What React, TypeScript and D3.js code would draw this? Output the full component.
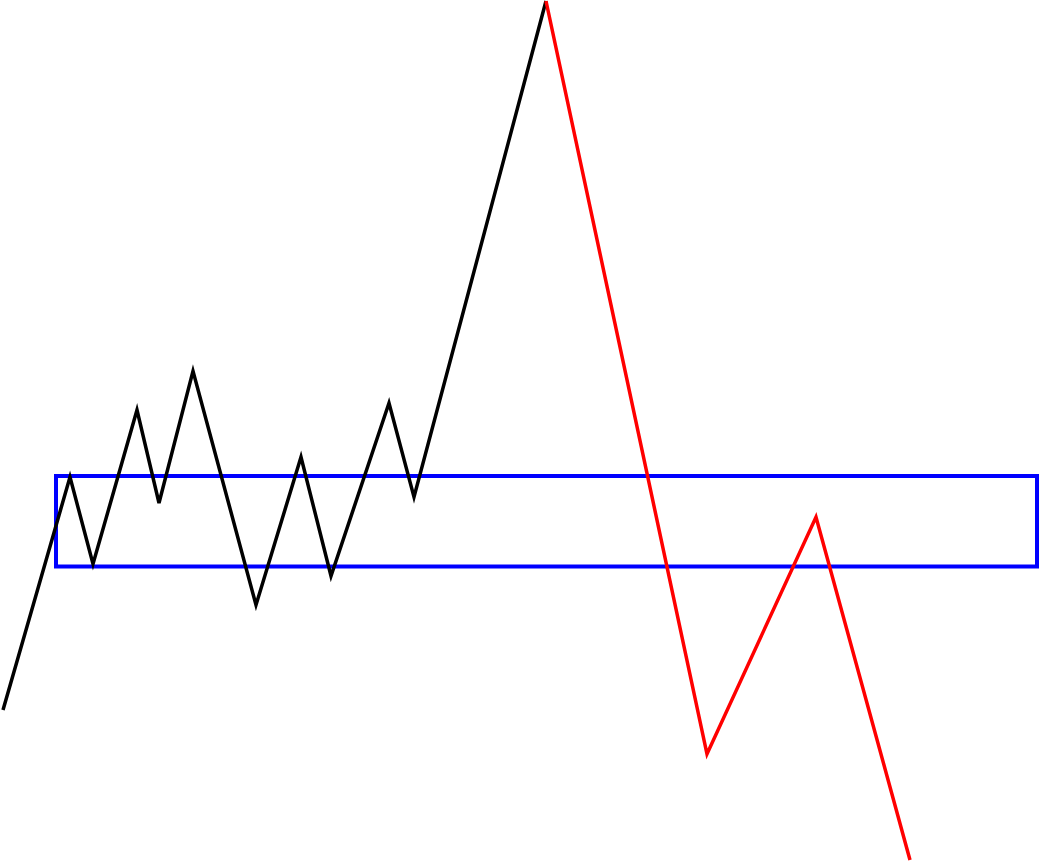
import React from "react";
import * as d3 from "d3";

const blackX = [0, 6.7, 9.0, 13.4, 15.6, 19.0, 25.3, 29.8, 32.8, 38.6, 41.1, 54.3];
const blackY = [15.2, 38.5, 29.8, 45.2, 35.9, 49.1, 25.7, 40.5, 28.6, 45.9, 36.5, 86.1];
const redX = [54.3, 70.4, 81.3, 90.7];
const redY = [86.1, 10.8, 34.5, 0.2];
const bandX = [5.3, 103.4];
const bandY = [29.55, 38.6];

const W = 1040;
const H = 862;

export default function App() {
  const x = d3.scaleLinear().domain([0, 103.7]).range([3, 1040]);
  const y = d3.scaleLinear().domain([0, 86.2]).range([862, 0]);
  const line = d3
    .line<[number, number]>()
    .x((d) => x(d[0]))
    .y((d) => y(d[1]));
  const black = blackX.map((v, i) => [v, blackY[i]] as [number, number]);
  const red = redX.map((v, i) => [v, redY[i]] as [number, number]);
  const rx = x(bandX[0]);
  const rw = x(bandX[1]) - x(bandX[0]);
  const ry = y(bandY[1]);
  const rh = y(bandY[0]) - y(bandY[1]);
  return (
    <svg
      width={W}
      height={H}
      style={{ position: "absolute", left: 0, top: 0, background: "#fff" }}
    >
      <rect x={rx} y={ry} width={rw} height={rh} fill="none" stroke="#0000ff" strokeWidth={4} />
      <path d={line(black) || ""} fill="none" stroke="#000" strokeWidth={3.5} />
      <path d={line(red) || ""} fill="none" stroke="#ff0000" strokeWidth={3.5} />
    </svg>
  );
}
